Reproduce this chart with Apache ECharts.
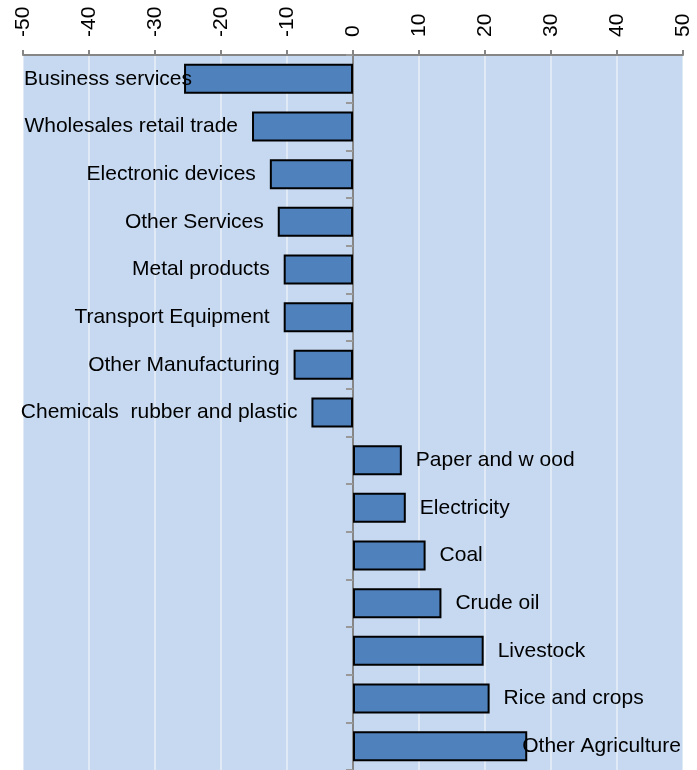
<!DOCTYPE html>
<html>
<head>
<meta charset="utf-8">
<script src="https://cdn.jsdelivr.net/npm/echarts@6/dist/echarts.min.js"></script>
<style>
  html, body { margin: 0; padding: 0; background: #fff; }
  #chart { width: 697px; height: 770px; }
</style>
</head>
<body>
<div id="chart"></div>
<script>
const sectors = [
  'Business services', 'Wholesales retail trade', 'Electronic devices', 'Other Services',
  'Metal products', 'Transport Equipment', 'Other Manufacturing', 'Chemicals  rubber and plastic',
  'Paper and w ood', 'Electricity', 'Coal', 'Crude oil', 'Livestock', 'Rice and crops', 'Other Agriculture'
]
const changes = [-25.6, -15.3, -12.6, -11.4, -10.5, -10.5, -9.0, -6.3, 7.4, 8.0, 11.0, 13.4, 19.8, 20.7, 26.4]
const xTicks = [-50, 50, 10] // min, max, step

const chart = echarts.init(document.getElementById('chart'))

// labels sit outside the bar end; the longest ones overlap a little like in the original
const overlap = { 'Business services': -8, 'Other Agriculture': -5 }
const barData = changes.map((v, i) => ({
  value: v,
  label: {
    position: v < 0 ? 'left' : 'right',
    distance: overlap[sectors[i]] ?? 14,
  },
}))

chart.setOption({
  animation: false,
  backgroundColor: '#fff',
  grid: {
    left: 23, right: 14, top: 55, bottom: -5,
    show: true,
    backgroundColor: '#C6D9F1',
    borderWidth: 0,
  },
  xAxis: {
    type: 'value',
    position: 'top',
    min: xTicks[0],
    max: xTicks[1],
    interval: xTicks[2],
    axisLine: { show: true, lineStyle: { color: '#868686', width: 2 } },
    axisTick: { show: true, length: 5, lineStyle: { color: '#868686', width: 2 } },
    axisLabel: {
      rotate: -90,
      margin: 18,
      color: '#000',
      fontSize: 21,
      fontFamily: 'Liberation Sans, Arial, sans-serif',
    },
    splitLine: { show: true, lineStyle: { color: 'rgba(255,255,255,0.45)', width: 2 } },
  },
  yAxis: {
    type: 'category',
    inverse: true,
    data: sectors,
    axisLine: { onZero: true, lineStyle: { color: '#868686', width: 2 } },
    axisTick: { show: true, length: 7, lineStyle: { color: '#999', width: 2 } },
    axisLabel: { show: false },
    splitLine: { show: false },
  },
  series: [{
    type: 'bar',
    data: barData,
    barWidth: 30,
    itemStyle: { color: '#4F81BD', borderColor: '#000', borderWidth: 2 },
    label: {
      show: true,
      formatter: p => p.name,
      color: '#000',
      fontSize: 21,
      fontFamily: 'Liberation Sans, Arial, sans-serif',
    },
  }],
})
</script>
</body>
</html>
